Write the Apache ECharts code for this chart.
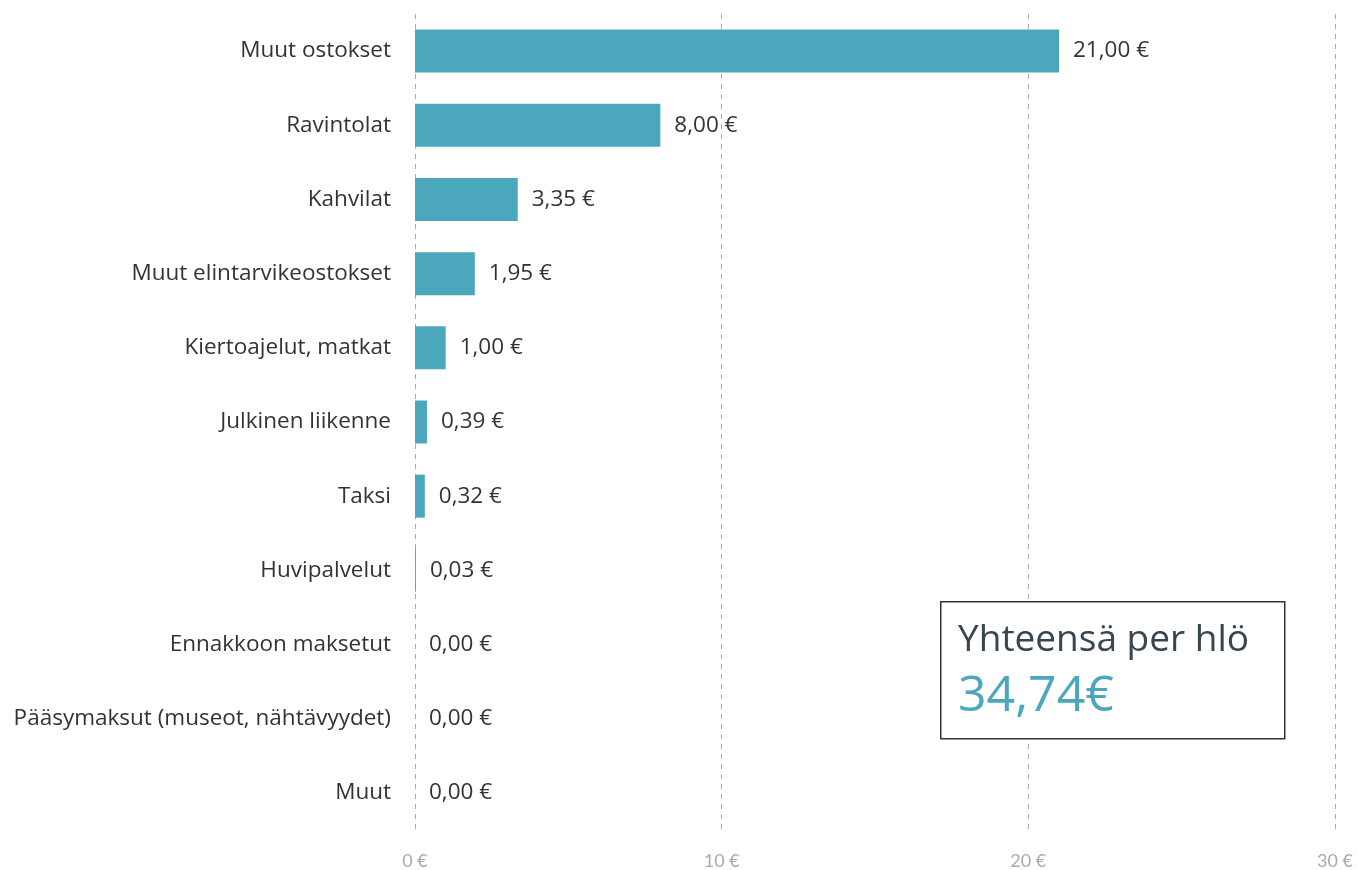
<!DOCTYPE html>
<html>
<head>
<meta charset="utf-8">
<script src="https://cdn.jsdelivr.net/npm/echarts@6/dist/echarts.min.js"></script>
<style>
  html, body { margin: 0; padding: 0; background: #fff; }
  #main { width: 1357px; height: 870px; }
</style>
</head>
<body>
<div id="main"></div>
<script>
var categories = ['Muut ostokset', 'Ravintolat', 'Kahvilat', 'Muut elintarvikeostokset',
    'Kiertoajelut, matkat', 'Julkinen liikenne', 'Taksi', 'Huvipalvelut',
    'Ennakkoon maksetut', 'Pääsymaksut (museot, nähtävyydet)', 'Muut'];
var values = [21.00, 8.00, 3.35, 1.95, 1.00, 0.39, 0.32, 0.03, 0.00, 0.00, 0.00];
var totalTitle = 'Yhteensä per hlö';
var totalText = '34,74€';

var myChart = echarts.init(document.getElementById('main'));

function euro(v) {
    return v.toFixed(2).replace('.', ',') + ' €';
}

var option = {
    animation: false,
    grid: {
        left: 415,
        right: 22,
        top: 14,
        bottom: 40
    },
    xAxis: {
        type: 'value',
        min: 0,
        max: 30,
        interval: 10,
        axisLine: { show: false },
        axisTick: { show: false },
        axisLabel: {
            margin: 22,
            color: '#aaaaaa',
            fontFamily: 'Lato',
            fontSize: 18,
            formatter: function (v) { return v + ' €'; }
        },
        splitLine: {
            lineStyle: { color: '#aaaaaa', type: [5, 5], width: 1 }
        }
    },
    yAxis: {
        type: 'category',
        inverse: true,
        data: categories,
        axisLine: { show: false },
        axisTick: { show: false },
        axisLabel: {
            margin: 24,
            color: '#333333',
            fontFamily: 'Open Sans',
            fontSize: 22.5
        }
    },
    series: [{
        type: 'bar',
        data: values,
        barWidth: 43,
        itemStyle: { color: '#4ba7bc' },
        label: {
            show: true,
            position: 'right',
            distance: 14,
            color: '#333333',
            fontFamily: 'Open Sans',
            fontSize: 22.5,
            formatter: function (p) { return euro(p.value); }
        }
    }],
    graphic: [{
        type: 'rect',
        left: 940,
        top: 601,
        shape: { width: 344, height: 137 },
        style: { fill: '#ffffff', stroke: '#333333', lineWidth: 1.5 },
        z: 10
    }, {
        type: 'text',
        left: 958,
        top: 622,
        style: {
            text: totalTitle,
            fill: '#37474f',
            font: '37px "Open Sans"'
        },
        z: 11
    }, {
        type: 'text',
        left: 958,
        top: 672,
        style: {
            text: totalText,
            fill: '#4ba7bc',
            font: '50px "Open Sans"'
        },
        z: 11
    }]
};

myChart.setOption(option);
</script>
</body>
</html>
